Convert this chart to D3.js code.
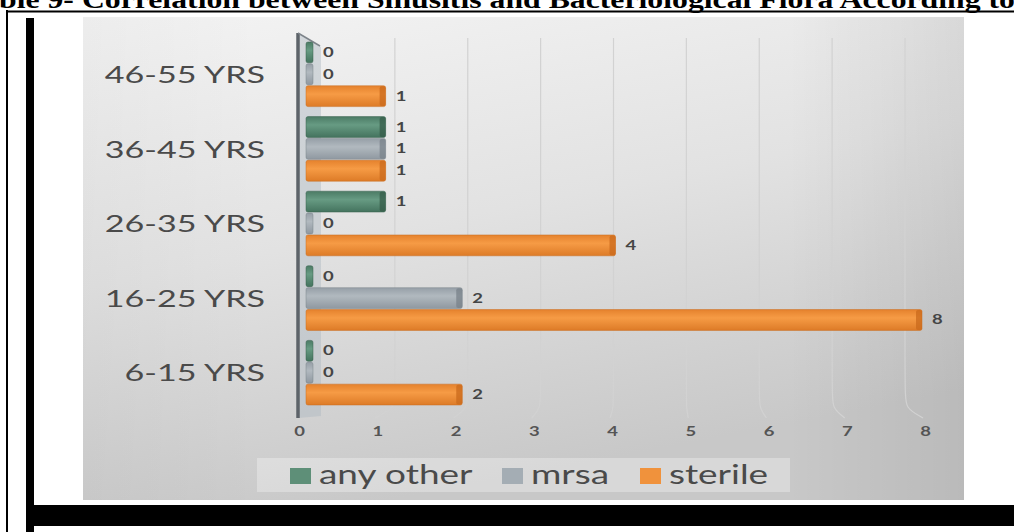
<!DOCTYPE html>
<html>
<head>
    <meta charset='utf-8'/>
    <title>sinusitis flora by age</title>
    <style>
        body { margin: 0; background: #fff; }
        svg { display: block; }
        .cat text { font-family: Lato, "Open Sans", sans-serif; font-size: 24px; fill: #4a4a4a; }
        .xaxis text { font-family: Lato, sans-serif; font-size: 13px; font-weight: bold; fill: #555; }
        .val { font-family: Lato, sans-serif; font-size: 13px; font-weight: bold; fill: #454545; }
        .leg { font-family: Lato, sans-serif; font-size: 26px; fill: #4a4a4a; }
    </style>
</head>
<body>
<div id="chart"></div>

<script src="https://d3js.org/d3.v7.min.js"></script>
<script type="text/javascript">

    // data
    var categories = ["46-55 YRS", "36-45 YRS", "26-35 YRS", "16-25 YRS", "6-15 YRS"];
    var seriesNames = ["any other", "mrsa", "sterile"];
    var anyOther = [0, 1, 1, 0, 0];
    var mrsa = [0, 1, 0, 2, 0];
    var sterile = [1, 1, 4, 8, 2];
    var xTicks = [0, 1, 2, 3, 4, 5, 6, 7, 8];

    var values = {"any other": anyOther, "mrsa": mrsa, "sterile": sterile};

    var colors = {
        "any other": ["#4b7b65", "#679b83", "#44735e", "#355c4a"],
        "mrsa": ["#969fa7", "#b1b9bf", "#8f98a0", "#78828a"],
        "sterile": ["#e5822d", "#f69b45", "#dd7b27", "#c9691c"]
    };
    var legendColors = {"any other": "#5e8f78", "mrsa": "#a4adb4", "sterile": "#f0923c"};

    // the chart image is stretched sideways, so is its text
    var sx = 1.42;

    var svg_dx = 1014, svg_dy = 532;

    var svg = d3.select("#chart")
        .append("svg")
        .attr("width", svg_dx)
        .attr("height", svg_dy);

    var defs = svg.append("defs");

    var bg = defs.append("linearGradient")
        .attr("id", "bg")
        .attr("x1", 0).attr("y1", 0).attr("x2", 0.35).attr("y2", 1);
    bg.append("stop").attr("offset", 0).attr("stop-color", "#f4f4f4");
    bg.append("stop").attr("offset", 0.5).attr("stop-color", "#e2e2e2");
    bg.append("stop").attr("offset", 1).attr("stop-color", "#c8c8c8");

    var bgSide = defs.append("linearGradient")
        .attr("id", "bgside")
        .attr("x1", 0).attr("y1", 0).attr("x2", 1).attr("y2", 0);
    bgSide.append("stop").attr("offset", 0).attr("stop-color", "#000").attr("stop-opacity", 0.03);
    bgSide.append("stop").attr("offset", 0.2).attr("stop-color", "#000").attr("stop-opacity", 0);
    bgSide.append("stop").attr("offset", 0.8).attr("stop-color", "#000").attr("stop-opacity", 0);
    bgSide.append("stop").attr("offset", 1).attr("stop-color", "#000").attr("stop-opacity", 0.07);

    seriesNames.forEach(function (s, i) {
        var g = defs.append("linearGradient")
            .attr("id", "bar" + i)
            .attr("x1", 0).attr("y1", 0).attr("x2", 0).attr("y2", 1);
        g.append("stop").attr("offset", 0).attr("stop-color", colors[s][0]);
        g.append("stop").attr("offset", 0.4).attr("stop-color", colors[s][1]);
        g.append("stop").attr("offset", 1).attr("stop-color", colors[s][2]);
    });

    /* title, cut off at the top of the scan */
    svg.append("text")
        .attr("x", -1)
        .attr("y", 8)
        .attr("textLength", 1016)
        .attr("lengthAdjust", "spacingAndGlyphs")
        .style("font-family", "'Liberation Serif', 'Times New Roman', serif")
        .style("font-weight", "bold")
        .style("font-size", "26px")
        .text("ble 9- Correlation between Sinusitis and Bacteriological Flora According to");

    /* document frame */
    svg.append("line").attr("x1", 7).attr("x2", svg_dx).attr("y1", 11.5).attr("y2", 11.5)
        .attr("stroke", "#000").attr("stroke-width", 2);
    svg.append("line").attr("x1", 7).attr("x2", 7).attr("y1", 10).attr("y2", svg_dy)
        .attr("stroke", "#000").attr("stroke-width", 2);
    svg.append("rect").attr("x", 26).attr("y", 18).attr("width", 8).attr("height", svg_dy - 18)
        .attr("fill", "#000");
    svg.append("rect").attr("x", 26).attr("y", 505).attr("width", svg_dx - 26).attr("height", 21)
        .attr("fill", "#000");

    /* chart panel */
    var panel = {x: 83, y: 17, w: 881, h: 483};
    svg.append("rect").attr("x", panel.x).attr("y", panel.y).attr("width", panel.w).attr("height", panel.h)
        .attr("fill", "url(#bg)");
    svg.append("rect").attr("x", panel.x).attr("y", panel.y).attr("width", panel.w).attr("height", panel.h)
        .attr("fill", "url(#bgside)");

    // scales: bars (front), gridlines (back wall), tick labels (floor)
    var xBar = d3.scaleLinear().domain([0, 8]).range([309, 922]),
        xGrid = d3.scaleLinear().domain([0, 8]).range([322, 905]),
        xTick = d3.scaleLinear().domain([0, 8]).range([299, 925]);

    var y = d3.scaleBand().domain(categories).range([37, 410]).paddingInner(0.12).paddingOuter(0.06);
    var ySub = d3.scaleBand().domain(seriesNames).range([0, y.bandwidth()]);

    /* gridlines, bending forward onto the floor */
    var gridLine = d3.line().curve(d3.curveBasis);
    svg.append("g").attr("id", "grid")
        .selectAll("path")
        .data(xTicks.slice(1))
        .enter()
        .append("path")
        .attr("d", d => gridLine([[xGrid(d), 38], [xGrid(d), 392], [xGrid(d), 408], [xTick(d) - 2, 418]]))
        .attr("fill", "none")
        .attr("stroke", "#d2d2d2")
        .attr("stroke-width", 1.2);

    /* 3d side wall and axis */
    svg.append("path")
        .attr("d", "M298,33L321,47L321,416L298,418Z")
        .attr("fill", "#aeb7c0")
        .attr("fill-opacity", 0.45);
    svg.append("line").attr("x1", 298).attr("x2", 298).attr("y1", 33).attr("y2", 418)
        .attr("stroke", "#5d6369").attr("stroke-width", 3.5);
    svg.append("line").attr("x1", 298).attr("x2", 320).attr("y1", 33).attr("y2", 46)
        .attr("stroke", "#7d848a").attr("stroke-width", 1.5);

    /* bars */
    var x0 = 306;
    var groups = svg.append("g").attr("id", "bars")
        .selectAll("g")
        .data(categories)
        .enter()
        .append("g")
        .attr("transform", d => "translate(0," + y(d) + ")");

    var bars = groups.selectAll("g")
        .data((c, ci) => seriesNames.map((s, si) => ({cat: c, s: s, si: si, v: values[s][ci]})))
        .enter()
        .append("g");

    bars.append("rect")
        .attr("x", x0)
        .attr("y", d => ySub(d.s) + 0.5)
        .attr("width", d => Math.max(xBar(d.v) - x0, 7))
        .attr("height", ySub.bandwidth() - 1)
        .attr("rx", 2)
        .attr("fill", d => "url(#bar" + d.si + ")")
        .attr("stroke", d => colors[d.s][3])
        .attr("stroke-opacity", 0.6)
        .attr("stroke-width", 0.8);

    // darker end face
    bars.filter(d => d.v > 0)
        .append("rect")
        .attr("x", d => xBar(d.v) - 6)
        .attr("y", d => ySub(d.s) + 1)
        .attr("width", 6)
        .attr("height", ySub.bandwidth() - 2)
        .attr("rx", 2)
        .attr("fill", d => colors[d.s][3])
        .attr("fill-opacity", 0.75);

    bars.append("text")
        .attr("class", "val")
        .attr("transform", d => "translate(" + (Math.max(xBar(d.v), x0 + 7) + 10) + "," + (ySub(d.s) + ySub.bandwidth() / 2 + 4.5) + ") scale(" + sx + ",1)")
        .text(d => d.v);

    /* category axis */
    var catAxis = svg.append("g")
        .attr("class", "cat")
        .attr("transform", "translate(265,1)")
        .call(d3.axisLeft(y).tickSize(0).tickPadding(0));
    catAxis.select(".domain").remove();
    catAxis.selectAll("text")
        .attr("fill", null)
        .attr("transform", "scale(" + sx + ",1)");

    /* value axis */
    var xAxis = svg.append("g")
        .attr("class", "xaxis")
        .attr("transform", "translate(0,427)")
        .call(d3.axisBottom(xTick).tickValues(xTicks).tickSize(0).tickPadding(0).tickFormat(d3.format("d")));
    xAxis.select(".domain").remove();
    xAxis.selectAll("text")
        .attr("fill", null)
        .attr("transform", "scale(" + sx + ",1)");

    /* legend */
    var legend = svg.append("g").attr("id", "legend");
    legend.append("rect")
        .attr("x", 257).attr("y", 458).attr("width", 533).attr("height", 34)
        .attr("fill", "#fff").attr("fill-opacity", 0.3);

    var legX = [290, 502, 640];
    var items = legend.selectAll("g.item")
        .data(seriesNames)
        .enter()
        .append("g")
        .attr("class", "item")
        .attr("transform", (d, i) => "translate(" + legX[i] + ",468)");
    items.append("rect")
        .attr("width", 21).attr("height", 16)
        .attr("fill", d => legendColors[d]);
    items.append("text")
        .attr("class", "leg")
        .attr("transform", "translate(29,16) scale(" + sx + ",1)")
        .text(d => d);

</script>

</body>
</html>
